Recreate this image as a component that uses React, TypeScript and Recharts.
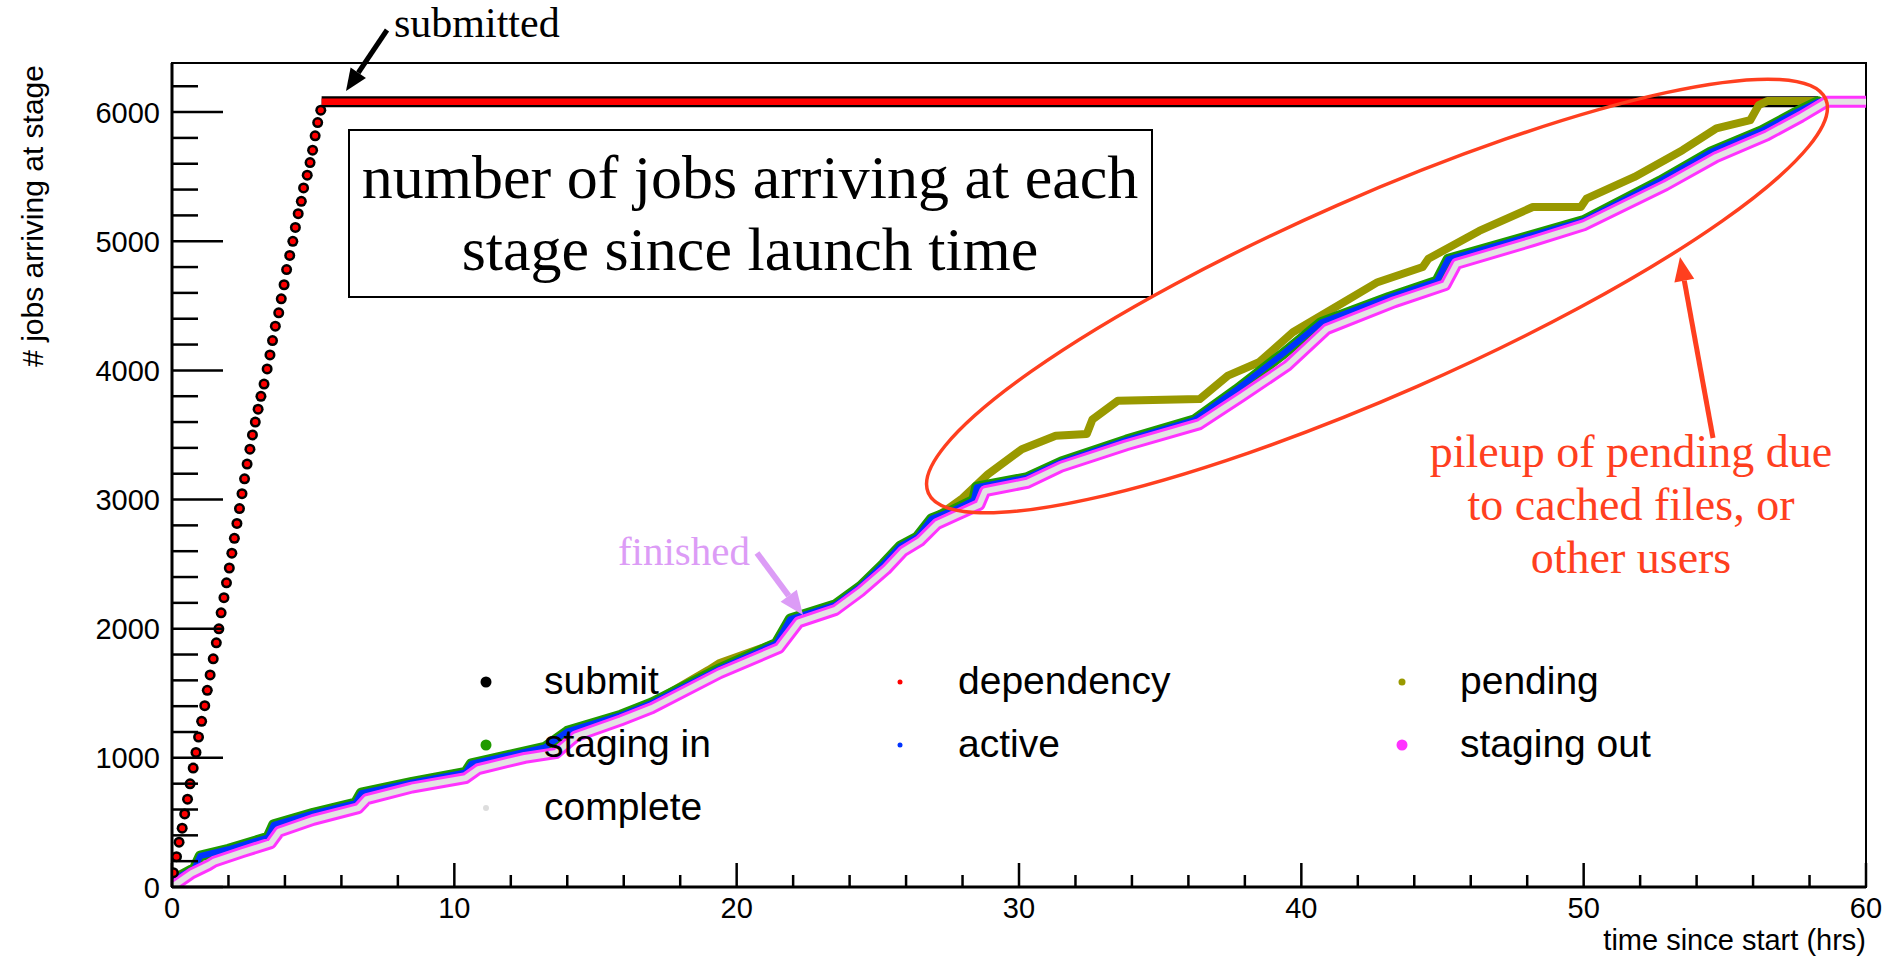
import React from 'react';
import { ComposedChart, Line, XAxis, YAxis, ReferenceArea } from 'recharts';

// cumulative number of jobs that reached each stage, vs hours since start
const submitT = [0.05, 0.16, 0.25, 0.36, 0.45, 0.55, 0.64, 0.75, 0.85, 0.94, 1.05, 1.16, 1.25, 1.35, 1.46, 1.57, 1.66, 1.74, 1.84, 1.93, 2.03, 2.12, 2.21, 2.3, 2.39, 2.48, 2.57, 2.66, 2.76, 2.85, 2.95, 3.05, 3.15, 3.26, 3.37, 3.47, 3.56, 3.66, 3.78, 3.87, 3.97, 4.06, 4.17, 4.28, 4.37, 4.47, 4.58, 4.66, 4.79, 4.89, 4.98, 5.07, 5.16, 5.27];
const submitN = [111, 235, 347, 455, 566, 680, 799, 921, 1042, 1161, 1283, 1404, 1523, 1642, 1767, 1891, 1999, 2123, 2240, 2355, 2470, 2585, 2700, 2815, 2930, 3045, 3160, 3275, 3390, 3500, 3600, 3700, 3799, 3894, 4011, 4120, 4231, 4342, 4446, 4554, 4663, 4781, 4890, 4999, 5107, 5213, 5309, 5413, 5511, 5609, 5705, 5816, 5919, 6015];
// after submission finishes the points pile up into a flat band
const submitFlatT = [5.3, 58.3];
const submitFlatN = [6080, 6080];

const stagingInT = [0, 0.8, 1.0, 2.0, 3.4, 3.6, 5.0, 6.5, 6.7, 8.5, 10.4, 10.6, 13.2, 14.0, 15.9, 17.0, 19.4, 21.4, 21.9, 23.5, 24.4, 25.2, 25.8, 26.4, 26.9, 27.6, 28.4, 28.5, 30.3, 31.5, 33.8, 36.2, 37.7, 39.3, 40.7, 43.1, 44.8, 45.2, 48.0, 50.0, 52.7, 54.5, 56.3, 57.5, 58.3];
const stagingInN = [50, 145, 240, 292, 385, 481, 570, 649, 727, 810, 887, 954, 1081, 1205, 1330, 1425, 1690, 1885, 2075, 2185, 2330, 2500, 2640, 2710, 2850, 2910, 2995, 3095, 3170, 3290, 3460, 3615, 3850, 4120, 4370, 4565, 4690, 4860, 5035, 5160, 5465, 5690, 5855, 5995, 6080];

const stagingOutT = [0, 0.7, 1.3, 1.5, 2.5, 3.5, 3.8, 5.0, 6.6, 6.9, 8.5, 10.4, 10.85, 12.5, 13.6, 14.3, 15.9, 17.0, 19.4, 21.5, 22.2, 23.5, 24.4, 25.3, 25.9, 26.5, 27.1, 27.7, 28.6, 28.8, 30.3, 31.5, 33.8, 36.4, 37.9, 39.5, 40.9, 43.3, 45.1, 45.5, 48.2, 50.0, 52.9, 54.7, 56.5, 57.7, 58.6, 60.0];
const stagingOutN = [0, 106, 170, 196, 270, 339, 429, 520, 610, 680, 770, 843, 913, 1000, 1037, 1166, 1290, 1385, 1655, 1850, 2050, 2145, 2290, 2460, 2600, 2680, 2810, 2870, 2960, 3065, 3130, 3255, 3420, 3584, 3800, 4035, 4320, 4528, 4660, 4825, 5000, 5123, 5433, 5653, 5821, 5963, 6080, 6080];

const pendingT = [0, 0.8, 1.0, 2.0, 3.4, 3.6, 5.0, 6.5, 6.7, 8.5, 10.4, 10.6, 13.2, 14.0, 15.9, 17.0, 19.0, 19.4, 21.4, 21.9, 23.5, 24.4, 25.2, 25.8, 26.4, 26.9, 27.3, 28.0, 28.9, 30.1, 31.3, 32.4, 32.6, 33.5, 36.4, 37.4, 38.5, 39.7, 41.5, 42.7, 44.3, 44.5, 46.3, 48.2, 49.9, 50.1, 51.8, 53.5, 54.7, 55.9, 56.2, 56.5, 58.3];
const pendingN = [50, 145, 240, 292, 385, 481, 570, 649, 727, 810, 887, 954, 1081, 1205, 1330, 1425, 1680, 1735, 1890, 2075, 2185, 2330, 2500, 2640, 2710, 2850, 2900, 3010, 3196, 3390, 3494, 3507, 3620, 3765, 3778, 3959, 4063, 4295, 4528, 4683, 4800, 4864, 5080, 5265, 5265, 5330, 5498, 5705, 5873, 5937, 6054, 6085, 6085];

// dependency sits on top of submit, active on staging in, complete on staging out
const dependencyT = submitT;
const dependencyN = submitN;
const activeT = stagingInT;
const activeN = stagingInN;
const completeT = stagingOutT;
const completeN = stagingOutN;

const xTicks = [0, 2, 4, 6, 8, 10, 12, 14, 16, 18, 20, 22, 24, 26, 28, 30, 32, 34, 36, 38, 40, 42, 44, 46, 48, 50, 52, 54, 56, 58, 60];
const yTicks = [0, 200, 400, 600, 800, 1000, 1200, 1400, 1600, 1800, 2000, 2200, 2400, 2600, 2800, 3000, 3200, 3400, 3600, 3800, 4000, 4200, 4400, 4600, 4800, 5000, 5200, 5400, 5600, 5800, 6000, 6200];

const legendItems = [
  { name: 'submit', color: '#000000', r: 5.5 },
  { name: 'dependency', color: '#ff0000', r: 2.5 },
  { name: 'pending', color: '#999900', r: 3.5 },
  { name: 'staging in', color: '#1f9a00', r: 5.5 },
  { name: 'active', color: '#0033ff', r: 2.5 },
  { name: 'staging out', color: '#ff33ff', r: 5.5 },
  { name: 'complete', color: '#dddddd', r: 3 },
];

const SANS = '"Liberation Sans", Arial, Helvetica, sans-serif';
const SERIF = '"Liberation Serif", "Times New Roman", serif';
const RED = '#ff3f1f';

const pts = (t: number[], n: number[]) => t.map((x, i) => ({ t: x, n: n[i] }));

const XTick = (props: any) => {
  const { x, y, payload } = props;
  const major = payload.value % 10 === 0;
  return (
    <g>
      <line x1={x} y1={y} x2={x} y2={y - (major ? 24 : 12)} stroke="#000" strokeWidth={2.5} />
      {major && (
        <text x={x} y={y + 31} textAnchor="middle" fontSize={29} fontFamily={SANS} fill="#000">
          {payload.value}
        </text>
      )}
    </g>
  );
};

const YTick = (props: any) => {
  const { x, y, payload } = props;
  const major = payload.value % 1000 === 0;
  return (
    <g>
      <line x1={x} y1={y} x2={x + (major ? 51 : 26)} y2={y} stroke="#000" strokeWidth={2.5} />
      {major && (
        <text x={x - 12} y={y + 10.5} textAnchor="end" fontSize={29} fontFamily={SANS} fill="#000">
          {payload.value}
        </text>
      )}
    </g>
  );
};

const Arrow = ({ x1, y1, x2, y2, color, w, head }: any) => {
  const a = Math.atan2(y2 - y1, x2 - x1);
  const bx = x2 - head * Math.cos(a);
  const by = y2 - head * Math.sin(a);
  const hw = head * 0.42;
  const p = [
    [x2, y2],
    [bx + hw * Math.sin(a), by - hw * Math.cos(a)],
    [bx - hw * Math.sin(a), by + hw * Math.cos(a)],
  ];
  return (
    <g>
      <line x1={x1} y1={y1} x2={bx} y2={by} stroke={color} strokeWidth={w} />
      <polygon points={p.map((q) => q.join(',')).join(' ')} fill={color} />
    </g>
  );
};

const Overlay = () => (
  <svg width={1888} height={956} style={{ position: 'absolute', left: 0, top: 0, pointerEvents: 'none' }}>
    {/* axis titles */}
    <text transform="translate(43,65) rotate(-90)" textAnchor="end" fontSize={30} fontFamily={SANS}>
      # jobs arriving at stage
    </text>
    <text x={1866} y={950} textAnchor="end" fontSize={29} fontFamily={SANS}>
      time since start (hrs)
    </text>

    {/* title box */}
    <rect x={349} y={130} width={803} height={167} fill="#fff" stroke="#000" strokeWidth={2} />
    <text x={750} y={198} textAnchor="middle" fontSize={62} fontFamily={SERIF}>
      number of jobs arriving at each
    </text>
    <text x={750} y={270} textAnchor="middle" fontSize={62} fontFamily={SERIF}>
      stage since launch time
    </text>

    {/* submitted */}
    <text x={394} y={37} fontSize={42} fontFamily={SERIF}>submitted</text>
    <Arrow x1={387} y1={30} x2={346} y2={91} color="#000" w={5} head={22} />

    {/* finished */}
    <text x={750} y={565} textAnchor="end" fontSize={41} fontFamily={SERIF} fill="#dc9cf6">finished</text>
    <Arrow x1={757} y1={553} x2={803} y2={615} color="#dc9cf6" w={6} head={24} />

    {/* pileup ellipse and note */}
    <ellipse cx={1377} cy={296} rx={490} ry={99} transform="rotate(-23.7 1377 296)" fill="none" stroke={RED} strokeWidth={3.5} />
    <Arrow x1={1713} y1={438} x2={1680} y2={257} color={RED} w={5} head={24} />
    <text x={1631} y={467} textAnchor="middle" fontSize={46} fontFamily={SERIF} fill={RED}>pileup of pending due</text>
    <text x={1631} y={520} textAnchor="middle" fontSize={46} fontFamily={SERIF} fill={RED}>to cached files, or</text>
    <text x={1631} y={573} textAnchor="middle" fontSize={46} fontFamily={SERIF} fill={RED}>other users</text>

    {/* legend, 3 columns */}
    {legendItems.map((it, i) => {
      const col = i % 3;
      const row = Math.floor(i / 3);
      const mx = [486, 900, 1402][col];
      const my = 682 + row * 63;
      return (
        <g key={it.name}>
          <circle cx={mx} cy={my} r={it.r} fill={it.color} />
          <text x={mx + 58} y={my + 12} fontSize={39} fontFamily={SANS}>{it.name}</text>
        </g>
      );
    })}
  </svg>
);

export default function App() {
  const lineProps = {
    type: 'linear' as const,
    dataKey: 'n',
    dot: false,
    activeDot: false,
    isAnimationActive: false,
    strokeLinecap: 'round' as const,
    strokeLinejoin: 'round' as const,
  };
  return (
    <div style={{ position: 'absolute', left: 0, top: 0, width: 1888, height: 956, background: '#fff' }}>
      <ComposedChart width={1888} height={956} margin={{ top: 63, right: 22, bottom: 0, left: 0 }}>
        <XAxis
          type="number"
          dataKey="t"
          domain={[0, 60]}
          ticks={xTicks}
          interval={0}
          height={69}
          tickSize={0}
          tickMargin={0}
          tickLine={false}
          axisLine={{ stroke: '#000', strokeWidth: 3 }}
          tick={(p: any) => <XTick {...p} />}
          allowDataOverflow
        />
        <YAxis
          type="number"
          domain={[0, 6380]}
          ticks={yTicks}
          interval={0}
          width={172}
          tickSize={0}
          tickMargin={0}
          tickLine={false}
          axisLine={{ stroke: '#000', strokeWidth: 3 }}
          tick={(p: any) => <YTick {...p} />}
          allowDataOverflow
        />
        <ReferenceArea x1={0} x2={60} y1={0} y2={6380} fill="none" stroke="#000" strokeWidth={2} ifOverflow="visible" />

        <Line {...lineProps} name="submit" data={pts(submitFlatT, submitFlatN)} stroke="#000" strokeWidth={11} strokeLinecap="butt" />
        <Line {...lineProps} name="submit dots" data={pts(submitT, submitN)} stroke="none" dot={{ r: 5.5, fill: '#000', stroke: 'none' }} />
        <Line {...lineProps} name="dependency" data={pts(submitFlatT, submitFlatN)} stroke="#ff0000" strokeWidth={6.5} strokeLinecap="butt" />
        <Line {...lineProps} name="dependency dots" data={pts(dependencyT, dependencyN)} stroke="none" dot={{ r: 3, fill: '#ff0000', stroke: 'none' }} />
        <Line {...lineProps} name="pending" data={pts(pendingT, pendingN)} stroke="#999900" strokeWidth={8} />
        <Line {...lineProps} name="staging in" data={pts(stagingInT, stagingInN)} stroke="#1f9a00" strokeWidth={11} />
        <Line {...lineProps} name="active" data={pts(activeT, activeN)} stroke="#0033ff" strokeWidth={6} />
        <Line {...lineProps} name="staging out" data={pts(stagingOutT, stagingOutN)} stroke="#ff33ff" strokeWidth={12} />
        <Line {...lineProps} name="complete" data={pts(completeT, completeN)} stroke="#e3e3e3" strokeWidth={6} />
      </ComposedChart>
      <Overlay />
    </div>
  );
}
